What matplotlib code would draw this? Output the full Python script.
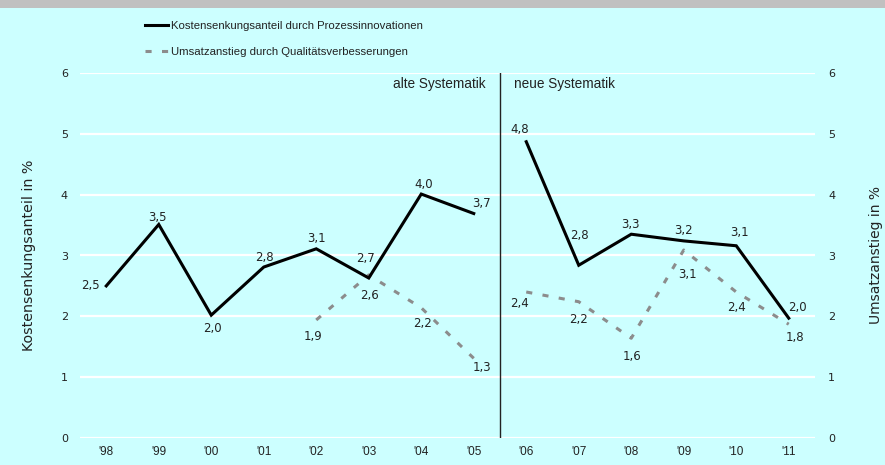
import matplotlib
matplotlib.use("Agg")
import matplotlib.pyplot as plt
from matplotlib.lines import Line2D
import matplotlib.patches as mpatches
import numpy as np

years = ["'98", "'99", "'00", "'01", "'02", "'03", "'04", "'05",
         "'06", "'07", "'08", "'09", "'10", "'11"]
kosten = [2.50, 3.51, 2.02, 2.81, 3.11, 2.63, 4.01, 3.69,
          4.87, 2.84, 3.35, 3.24, 3.16, 1.97]
kosten_labels = ["2,5", "3,5", "2,0", "2,8", "3,1", "2,6", "4,0", "3,7",
                 "4,8", "2,8", "3,3", "3,2", "3,1", "2,0"]
umsatz = [None, None, None, None, 1.94, 2.68, 2.14, 1.31,
          2.40, 2.24, 1.64, 3.09, 2.40, 1.87]
umsatz_labels = [None, None, None, None, "1,9", "2,7", "2,2", "1,3",
                 "2,4", "2,2", "1,6", "3,1", "2,4", "1,8"]
yticks = [0, 1, 2, 3, 4, 5, 6]

# label offsets in pixels (dx, dy up)
k_off = [(-16, 0), (-1, 7), (1, -13), (1, 10), (0, 10), (1, -17), (2, 10), (8, 10),
         (-7, 12), (1, 30), (-1, 10), (0, 10), (3, 13), (9, 11)]
u_off = [None, None, None, None, (-3, -17), (-3, 16), (1, -16), (8, -9),
         (-7, -12), (0, -18), (1, -18), (4, -24), (0, -16), (6, -13)]

BG = "#CCFFFF"
SANS = ["Liberation Sans", "DejaVu Sans"]
LABF = ["DejaVu Sans"]
TXT = "#222222"
GREY = "#8c8c8c"

fig = plt.figure(figsize=(8.85, 4.65), dpi=100, facecolor=BG)
fig.patches.append(mpatches.Rectangle((0, 1 - 8 / 465), 1, 8 / 465, transform=fig.transFigure,
                                      facecolor="#C0C0C0", edgecolor="none", zorder=0))

ax = fig.add_axes([80 / 885, 27 / 465, 735 / 885, 365 / 465])
ax.set_facecolor(BG)
for s in ax.spines.values():
    s.set_visible(False)

x = np.arange(len(years))
ax.set_xlim(-0.5, len(years) - 0.5)
ax.set_ylim(0, 6)
ax.set_yticks(yticks)
ax.set_yticklabels([str(v) for v in yticks], family=LABF, fontsize=8, color=TXT)
ax.set_xticks(x)
ax.set_xticklabels(years, family=SANS, fontsize=8.5, color=TXT)
ax.tick_params(length=0, pad=6)
ax.tick_params(axis="y", pad=8.6)
ax.grid(axis="y", color="white", lw=1.6)
ax.set_axisbelow(True)

ax2 = ax.twinx()
ax2.set_ylim(0, 6)
ax2.set_yticks(yticks)
ax2.set_yticklabels([str(v) for v in yticks], family=LABF, fontsize=8, color=TXT)
ax2.tick_params(length=0, pad=9.4)
for s in ax2.spines.values():
    s.set_visible(False)

ax.set_ylabel("Kostensenkungsanteil in %", family=LABF, fontsize=10.3, color=TXT, labelpad=18)
ax2.set_ylabel("Umsatzanstieg in %", family=LABF, fontsize=10, color=TXT, labelpad=24)

brk = 8
LW = 2.2
DASH = (2.0, 3.4)
for seg in (slice(0, brk), slice(brk, len(years))):
    xs = x[seg]
    ks = kosten[seg]
    ax.plot(xs, ks, color="black", lw=LW, zorder=4, solid_joinstyle="miter")
    us = umsatz[seg]
    ux = [xi for xi, u in zip(xs, us) if u is not None]
    uv = [u for u in us if u is not None]
    ax.plot(ux, uv, color=GREY, lw=LW, dashes=DASH, dash_capstyle="butt", zorder=3)

for i, v in enumerate(kosten):
    dx, dy = k_off[i]
    ax.annotate(kosten_labels[i], (x[i], v), xytext=(dx, dy), textcoords="offset pixels",
                ha="center", va="center", family=LABF, fontsize=8.5, color=TXT, zorder=6)
for i, v in enumerate(umsatz):
    if v is None:
        continue
    dx, dy = u_off[i]
    ax.annotate(umsatz_labels[i], (x[i], v), xytext=(dx, dy), textcoords="offset pixels",
                ha="center", va="center", family=LABF, fontsize=8.5, color=TXT, zorder=6)

ax.axvline(brk - 0.5, color="#222222", lw=1.0, zorder=5)
ax.annotate("alte Systematik", (brk - 0.5, 6), xytext=(-14, -11), textcoords="offset pixels",
            ha="right", va="center", family=SANS, fontsize=9.8, color=TXT)
ax.annotate("neue Systematik", (brk - 0.5, 6), xytext=(14, -11), textcoords="offset pixels",
            ha="left", va="center", family=SANS, fontsize=9.8, color=TXT)

handles = [Line2D([], [], color="black", lw=LW),
           Line2D([], [], color=GREY, lw=LW, dashes=DASH, dash_capstyle="butt")]
labels = ["Kostensenkungsanteil durch Prozessinnovationen",
          "Umsatzanstieg durch Qualitätsverbesserungen"]
fig.legend(handles, labels, loc="upper left", bbox_to_anchor=(145 / 885, 1 - 21 / 465),
           frameon=False, prop={"family": SANS, "size": 8.2},
           handlelength=2.0, handletextpad=0.3, labelspacing=1.42, borderaxespad=0,
           borderpad=0, labelcolor=TXT)

fig.savefig("out.png", dpi=100, facecolor=BG)
